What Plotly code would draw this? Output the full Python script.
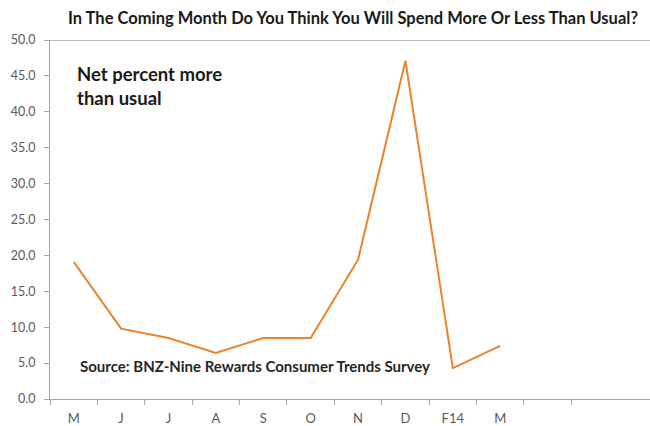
import plotly.graph_objects as go

months = ["M", "J", "J", "A", "S", "O", "N", "D", "F14", "M"]
net_more = [19.1, 9.8, 8.5, 6.4, 8.5, 8.5, 19.4, 47.1, 4.3, 7.4]
y_ticks = [0, 5, 10, 15, 20, 25, 30, 35, 40, 45, 50]

x_idx = list(range(len(months)))
FONT = "Lato"

fig = go.Figure()
fig.add_trace(go.Scatter(
    x=x_idx, y=net_more, mode="lines",
    line=dict(color="#EC832A", width=2),
    showlegend=False, hoverinfo="skip",
))

fig.update_layout(
    width=650, height=426,
    margin=dict(l=50, r=0, t=40, b=27),
    paper_bgcolor="white", plot_bgcolor="white",
    font=dict(family=FONT, color="#404040"),
    xaxis=dict(
        range=[-0.5, 12.16],
        tickvals=x_idx, ticktext=months,
        ticks="", showgrid=False, zeroline=False,
        showline=True, linecolor="#A6A6A6", linewidth=1,
        ticklabelstandoff=7,
        tickfont=dict(size=13, color="#595959", family=FONT),
        minor=dict(ticks="outside", tickvals=[i - 0.5 for i in range(len(months) + 2)],
                   ticklen=5, tickcolor="#A6A6A6", showgrid=False),
    ),
    yaxis=dict(
        range=[0, 50],
        tickvals=y_ticks, ticktext=[f"{v:.1f}" for v in y_ticks],
        ticks="outside", ticklen=5, tickcolor="#A6A6A6",
        ticklabelstandoff=6,
        showgrid=False, zeroline=False,
        showline=True, linecolor="#A6A6A6", linewidth=1,
        tickfont=dict(size=12.5, color="#595959", family=FONT),
    ),
    shapes=[dict(type="line", xref="paper", yref="y", x0=0, x1=1, y0=50, y1=50,
                 line=dict(color="#A6A6A6", width=1.5))],
    annotations=[
        dict(text="<b>In The Coming Month Do You Think You Will Spend More Or Less Than Usual?</b>",
             xref="paper", yref="paper", x=(353 - 50) / 600, y=1, yshift=22,
             xanchor="center", yanchor="middle", showarrow=False,
             font=dict(size=16.5, color="#1a1a1a", family=FONT)),
        dict(text="<b>Net percent more<br>than usual</b>",
             xref="paper", yref="paper", x=(75 - 50) / 600, y=(399 - 86) / 359,
             xanchor="left", yanchor="middle", align="left", showarrow=False,
             font=dict(size=18.5, color="#1a1a1a", family=FONT)),
        dict(text="<b>Source: BNZ-Nine Rewards Consumer Trends Survey</b>",
             xref="paper", yref="paper", x=(78 - 50) / 600, y=(399 - 366) / 359,
             xanchor="left", yanchor="middle", align="left", showarrow=False,
             font=dict(size=15, color="#262626", family=FONT)),
    ],
)

fig.write_html("out.html")
